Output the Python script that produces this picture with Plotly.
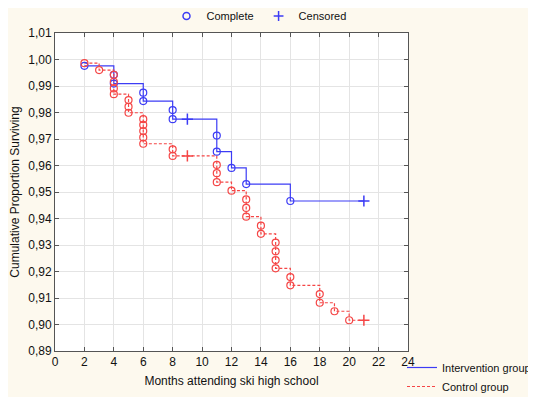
import plotly.graph_objects as go

# Intervention group: event times and survival after each event
int_times = [2, 4, 4, 6, 6, 8, 8, 11, 11, 12, 13, 16]
int_surv = [0.9976, 0.9942, 0.9909, 0.9875, 0.9843, 0.9809, 0.9775,
            0.9713, 0.9652, 0.9591, 0.9530, 0.9466]
int_cens_times = [9, 21]
int_cens_surv = [0.9775, 0.9466]

# Control group
ctl_times = [2, 3, 4, 4, 4, 4, 5, 5, 5, 6, 6, 6, 6, 6, 8, 8, 11, 11, 11, 12,
             13, 13, 13, 14, 14, 15, 15, 15, 15, 16, 16, 18, 18, 19, 20]
ctl_surv = [0.9986, 0.9960, 0.9942, 0.9916, 0.9891, 0.9869, 0.9847, 0.9822,
            0.9799, 0.9775, 0.9753, 0.9730, 0.9706, 0.9682, 0.9661, 0.9636,
            0.9602, 0.9571, 0.9537, 0.9505, 0.9472, 0.9440, 0.9407, 0.9373,
            0.9342, 0.9309, 0.9276, 0.9243, 0.9212, 0.9179, 0.9148, 0.9115,
            0.9082, 0.9050, 0.9016]
ctl_cens_times = [9, 21]
ctl_cens_surv = [0.9636, 0.9016]

x_ticks = list(range(0, 25, 2))
y_ticks = [0.89, 0.90, 0.91, 0.92, 0.93, 0.94, 0.95, 0.96, 0.97, 0.98, 0.99, 1.00, 1.01]

BLUE = "#3c3cf5"
RED = "#f54646"
FONT = "Liberation Sans"

# The page adds an 8px body margin; size the figure to fit the window.
W, H = 528, 389

fig = go.Figure()

# Step lines (legend at bottom right)
fig.add_trace(go.Scatter(
    x=int_times + [int_cens_times[-1]], y=int_surv + [int_cens_surv[-1]],
    mode="lines", line=dict(color=BLUE, width=1.2, shape="hv"),
    name="Intervention group", legend="legend"))
fig.add_trace(go.Scatter(
    x=ctl_times + [ctl_cens_times[-1]], y=ctl_surv + [ctl_cens_surv[-1]],
    mode="lines", line=dict(color=RED, width=1.2, shape="hv", dash="3px,2px"),
    name="Control group", legend="legend"))

# Event markers
fig.add_trace(go.Scatter(
    x=int_times, y=int_surv, mode="markers",
    marker=dict(symbol="circle-open", size=7, color=BLUE, line=dict(width=1.2)),
    showlegend=False))
fig.add_trace(go.Scatter(
    x=ctl_times, y=ctl_surv, mode="markers",
    marker=dict(symbol="circle-open", size=7, color=RED, line=dict(width=1.2)),
    showlegend=False))
# Censored markers
fig.add_trace(go.Scatter(
    x=int_cens_times, y=int_cens_surv, mode="markers",
    marker=dict(symbol="cross-thin", size=8, color=BLUE, line=dict(width=1.5, color=BLUE)),
    showlegend=False))
fig.add_trace(go.Scatter(
    x=ctl_cens_times, y=ctl_cens_surv, mode="markers",
    marker=dict(symbol="cross-thin", size=8, color=RED, line=dict(width=1.5, color=RED)),
    showlegend=False))

# Top legend (marker types)
fig.add_trace(go.Scatter(
    x=[None], y=[None], mode="markers", name="Complete",
    marker=dict(symbol="circle-open", size=7, color=BLUE, line=dict(width=1.5)),
    legend="legend2"))
fig.add_trace(go.Scatter(
    x=[None], y=[None], mode="markers", name="Censored",
    marker=dict(symbol="cross-thin", size=7, color=BLUE, line=dict(width=1.5, color=BLUE)),
    legend="legend2"))

axis_common = dict(
    showline=True, linecolor="#555555", linewidth=1, mirror="ticks",
    ticks="inside", ticklen=4, tickcolor="#555555",
    showgrid=True, gridcolor="#e4e4e4", gridwidth=1, zeroline=False,
    tickfont=dict(family=FONT, size=12, color="#111111"),
)

fig.update_layout(
    width=W, height=H,
    margin=dict(l=47, r=128, t=25, b=46, autoexpand=False),
    paper_bgcolor="#fdf9ee", plot_bgcolor="#ffffff",
    separators=", ",
    font=dict(family=FONT, size=11, color="#111111"),
    xaxis=dict(axis_common, range=[0, 24], tickvals=x_ticks,
               title=dict(text="Months attending ski high school",
                          font=dict(family=FONT, size=12), standoff=8)),
    yaxis=dict(axis_common, range=[0.89, 1.01], tickvals=y_ticks, tickformat=".2f",
               title=dict(text="Cumulative Proportion Surviving",
                          font=dict(family=FONT, size=12), standoff=6)),
    legend=dict(xref="container", yref="container", x=394 / W, y=1 - 345 / H,
                xanchor="left", yanchor="top", bgcolor="rgba(0,0,0,0)",
                font=dict(family=FONT, size=11), tracegroupgap=0,
                itemwidth=30),
    legend2=dict(xref="container", yref="container", x=251 / W, y=1 - 8 / H,
                 xanchor="center", yanchor="middle", orientation="h",
                 bgcolor="rgba(0,0,0,0)", font=dict(family=FONT, size=11)),
)

fig.write_html("out.html")
